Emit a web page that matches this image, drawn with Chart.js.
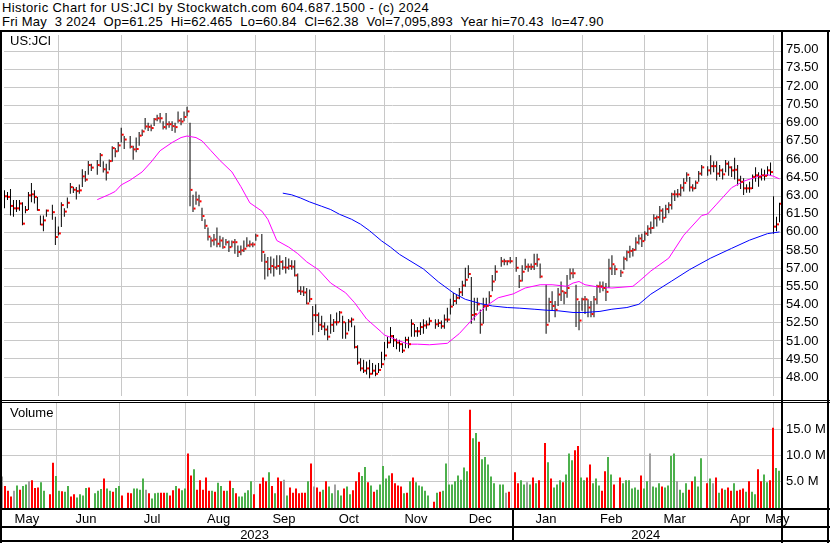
<!DOCTYPE html>
<html>
<head>
<meta charset="utf-8">
<title>Historic Chart for US:JCI</title>
<script src="https://cdn.jsdelivr.net/npm/chart.js@4.4.1/dist/chart.umd.min.js"></script>
<style>
  body { margin: 0; background: #fff; }
  #page { position: relative; width: 830px; height: 543px; overflow: hidden;
          font-family: "Liberation Sans", Arial, sans-serif; font-size: 13px; color: #000; }
  .hdr { position: absolute; left: 2px; white-space: pre; line-height: 14px; }
  .lbl { position: absolute; left: 10px; line-height: 14px; }
  .ln { position: absolute; background: #000; z-index: 2; }
  canvas { position: absolute; left: 0; }
</style>
</head>
<body>
<div id="page">
  <div class="hdr" style="top:1px;letter-spacing:0.4px">Historic Chart for US:JCI by Stockwatch.com 604.687.1500 - (c) 2024</div>
  <div class="hdr" style="top:15px;letter-spacing:0.24px">Fri May  3 2024  Op=61.25  Hi=62.465  Lo=60.84  Cl=62.38  Vol=7,095,893  Year hi=70.43  lo=47.90</div>
  <canvas id="price" width="830" height="369" style="top:31px"></canvas>
  <canvas id="volume" width="830" height="141" style="top:402px"></canvas>
  <div class="lbl" style="top:34px">US:JCI</div>
  <div class="lbl" style="top:406px">Volume</div>
  <!-- frame -->
  <div class="ln" style="left:0;top:30px;width:830px;height:2px"></div>
  <div class="ln" style="left:0;top:30px;width:2px;height:513px"></div>
  <div class="ln" style="left:781px;top:30px;width:2px;height:513px"></div>
  <div class="ln" style="left:827px;top:30px;width:2px;height:513px"></div>
  <div class="ln" style="left:0;top:400px;width:830px;height:1px"></div>
  <div class="ln" style="left:0;top:402px;width:830px;height:1px"></div>
  <div class="ln" style="left:0;top:508px;width:830px;height:2px"></div>
  <div class="ln" style="left:0;top:526px;width:830px;height:2px"></div>
  <div class="ln" style="left:0;top:540px;width:830px;height:2px"></div>
  <div class="ln" style="left:512px;top:508px;width:2px;height:34px"></div>
</div>
<script>
// one entry per weekday, 8 May 2023 .. 3 May 2024 (null = market holiday)
const closes = [
  63.0, 62.95, 62.2, 62.0, 62.0, 62.4, 60.73, 61.86, 63.08, 63.16,
  62.95, 61.86, 60.65, 61.0, 61.81, null, 61.68, 59.62, 59.92, 62.27,
  61.73, 62.46, 63.76, 63.54, 63.43, 63.49, 64.65, 64.38, 65.59, 65.38,
  null, 65.59, 66.41, 65.24, 64.97, 65.92, 67.0, 66.73, 67.22, 68.11,
  67.71, null, 67.11, 66.89, 66.92, 68.03, 68.38, 68.79, 68.76, 68.66,
  69.39, 69.47, 69.47, 68.74, 68.98, 68.98, 68.82, 68.74, 69.28, 69.2,
  69.58, 70.04, 63.53, 61.98, 62.72, 62.58, 61.36, 60.55, 59.65, 59.33,
  59.41, 59.06, 59.33, 58.78, 59.19, 58.78, 59.19, 59.19, 58.38, 58.51,
  58.65, 58.92, 59.0, 59.0, 59.73, null, 58.38, 57.56, 56.97, 57.21,
  57.1, 57.21, 57.56, 57.1, 57.08, 57.21, 57.16, 56.44, 55.15, 55.1,
  55.02, 54.11, 54.48, 53.14, 53.14, 52.34, 52.2, 51.94, 51.35, 52.34,
  52.55, 52.55, 53.36, 52.55, 51.61, 52.61, 52.77, 50.49, 49.2, 48.72,
  48.53, 48.72, 48.27, 48.53, 48.27, 48.59, 49.07, 49.79, 50.86, 51.4,
  51.05, 50.86, 50.73, 50.2, 51.08, 50.73, 52.42, 51.8, 51.8, 52.15,
  52.28, 52.36, 52.66, null, 52.38, 52.49, 52.22, 52.77, 52.77, 53.85,
  54.31, 54.58, 55.04, 55.6, 56.07, 56.55, 53.15, 53.23, 54.04, 52.36,
  53.9, 53.9, 54.72, 55.93, 56.74, null, 57.61, 57.61, 57.61, 57.61,
  null, 57.07, 55.99, 56.74, 57.15, 57.15, 57.15, 57.39, 57.77, 56.34,
  null, 52.34, 54.23, 53.9, 53.58, 54.85, 55.12, 54.99, 55.39, 56.61,
  56.61, 54.45, 52.69, 54.45, 54.45, 53.77, 53.23, 54.45, 55.53, 55.53,
  55.39, 55.07, 57.01, 57.36, 56.95, null, 56.68, 57.81, 58.36, 58.47,
  58.55, 59.17, 59.5, 59.28, 59.9, 60.31, 60.37, 61.18, 61.26, 61.81,
  61.21, 61.94, 62.27, 63.16, 63.16, 63.16, 63.71, 64.11, 64.79, 63.74,
  63.66, 64.12, 64.88, 65.4, null, 65.15, 65.5, 65.5, 64.88, 65.15,
  64.82, 65.7, 65.4, 65.15, 65.2, 64.34, 64.2, 63.66, 63.66, 63.66,
  64.61, 64.74, 64.61, 64.74, 64.69, 65.15, 65.01, 60.48, 60.67, 62.38
];
const highs = [
  63.5, 63.35, 63.6, 62.7, 62.7, 62.7, 62.5, 62.2, 63.35, 64.1,
  63.5, 62.95, 61.4, 61.4, 61.9, null, 62.3, 61.3, 60.5, 62.5,
  62.0, 62.9, 64.1, 63.8, 63.76, 63.97, 65.24, 65.1, 65.92, 65.7,
  null, 66.0, 66.6, 65.9, 65.7, 66.05, 67.14, 67.0, 67.5, 68.68,
  68.0, null, 68.0, 67.19, 67.87, 68.33, 68.55, 69.5, 69.09, 68.95,
  69.5, 69.77, 69.9, 69.23, 69.9, 69.23, 69.23, 69.09, 70.04, 69.5,
  70.04, 70.43, 69.09, 63.12, 63.4, 63.12, 62.04, 61.09, 60.41, 59.6,
  59.87, 60.41, 59.73, 59.6, 59.46, 59.33, 59.33, 59.46, 58.92, 58.92,
  59.33, 59.6, 59.33, 59.19, 59.9, null, 59.87, 58.24, 57.97, 58.0,
  57.83, 58.1, 58.1, 57.7, 57.97, 57.83, 57.7, 57.7, 56.6, 55.53,
  55.53, 55.4, 55.26, 53.9, 54.04, 53.36, 53.09, 52.55, 52.28, 53.22,
  52.82, 53.36, 53.49, 53.09, 52.55, 52.82, 52.95, 52.28, 50.65, 49.57,
  49.43, 49.3, 49.43, 49.16, 49.02, 49.16, 50.11, 50.9, 51.35, 52.15,
  51.5, 51.2, 51.1, 50.8, 51.35, 51.35, 52.8, 52.4, 52.15, 52.55,
  52.8, 52.7, 52.95, null, 52.8, 52.8, 52.7, 53.2, 53.75, 54.5,
  55.0, 54.85, 55.4, 56.0, 57.07, 57.28, 56.3, 54.58, 54.58, 53.6,
  54.58, 54.58, 55.12, 56.47, 57.28, null, 57.96, 57.82, 57.69, 57.96,
  null, 57.96, 56.47, 57.28, 57.82, 57.42, 57.42, 58.23, 58.23, 57.42,
  null, 55.66, 54.58, 55.12, 54.31, 55.39, 55.93, 55.12, 56.47, 57.01,
  57.01, 55.66, 54.31, 54.58, 54.72, 54.45, 54.31, 54.72, 55.66, 55.93,
  55.93, 55.8, 57.82, 58.1, 57.28, null, 56.9, 58.0, 58.5, 58.9,
  58.7, 59.6, 59.8, 59.9, 60.1, 60.6, 60.9, 61.5, 61.4, 62.2,
  62.0, 62.3, 62.5, 63.3, 63.5, 63.6, 64.0, 64.5, 65.0, 64.6,
  64.0, 64.3, 65.1, 65.6, null, 65.5, 66.4, 65.9, 65.9, 65.6,
  65.3, 66.0, 65.9, 65.5, 66.2, 65.6, 64.7, 64.5, 64.0, 64.2,
  64.8, 65.4, 65.0, 65.3, 65.2, 65.5, 65.8, 63.0, 61.3, 62.465
];
const lows = [
  62.0, 62.7, 61.4, 61.3, 61.7, 61.8, 60.6, 61.6, 61.86, 62.5,
  62.4, 61.8, 60.6, 60.1, 61.3, null, 61.05, 58.95, 59.75, 60.45,
  61.3, 62.0, 63.2, 63.27, 62.73, 63.2, 63.76, 64.2, 64.78, 65.1,
  null, 64.78, 65.43, 64.97, 64.3, 65.16, 65.86, 66.24, 66.7, 67.46,
  66.92, null, 66.97, 66.03, 66.65, 67.19, 68.0, 68.55, 68.41, 68.4,
  68.82, 69.23, 69.09, 68.55, 68.55, 68.68, 68.41, 68.28, 69.09, 68.9,
  69.23, 69.63, 62.17, 61.7, 62.3, 62.17, 60.95, 60.28, 59.33, 58.78,
  58.92, 58.78, 58.78, 58.65, 58.92, 58.38, 58.78, 58.24, 57.97, 58.1,
  58.38, 58.78, 58.78, 58.78, 59.3, null, 57.56, 56.1, 56.34, 56.6,
  56.34, 56.9, 56.48, 56.9, 56.6, 56.9, 56.9, 56.34, 55.0, 54.8,
  54.72, 54.04, 54.2, 51.46, 52.55, 51.73, 51.9, 51.46, 51.05, 51.6,
  51.73, 52.28, 52.55, 51.19, 51.19, 51.8, 52.14, 50.38, 49.02, 48.48,
  48.34, 48.21, 47.9, 48.21, 48.07, 48.34, 48.75, 49.4, 50.4, 50.8,
  50.5, 50.3, 50.1, 50.0, 50.4, 50.4, 51.35, 51.35, 51.35, 51.5,
  51.6, 52.0, 52.3, null, 52.0, 52.15, 52.0, 52.0, 52.55, 53.2,
  53.9, 54.04, 54.45, 54.72, 55.5, 56.2, 52.42, 52.69, 53.5, 51.6,
  52.42, 53.5, 54.04, 55.12, 56.0, null, 57.15, 57.28, 57.28, 57.42,
  null, 56.74, 55.39, 55.93, 56.88, 56.74, 56.88, 56.88, 57.15, 56.2,
  null, 51.6, 52.55, 53.5, 52.96, 53.9, 54.31, 54.04, 54.58, 56.07,
  56.2, 52.15, 51.88, 53.5, 53.23, 52.96, 52.96, 52.96, 54.04, 54.99,
  55.12, 54.31, 55.39, 56.47, 56.47, null, 56.3, 56.9, 57.6, 57.9,
  58.0, 58.5, 59.0, 58.8, 59.3, 59.7, 59.9, 60.3, 60.5, 61.0,
  60.8, 61.2, 61.6, 61.9, 62.6, 62.9, 63.0, 63.4, 64.2, 63.4,
  63.4, 63.6, 64.2, 64.7, null, 64.7, 64.8, 65.0, 64.3, 64.6,
  64.4, 65.0, 64.7, 64.6, 64.4, 63.9, 63.6, 63.1, 63.3, 63.3,
  63.6, 64.2, 63.8, 64.3, 64.3, 64.7, 64.7, 59.9, 60.1, 60.84
];
// volume in millions of shares
const volumes = [
  6.0, 4.2, 3.3, 2.2, 3.3, 4.3, 3.5, 4.2, 4.5, 5.1,
  5.3, 3.8, 3.9, 4.9, 3.3, null, 2.6, 8.6, 6.1, 3.3,
  3.2, 3.1, 4.2, 2.2, 2.6, 2.0, 2.6, 2.4, 3.8, 3.9,
  null, 2.8, 3.3, 3.6, 5.6, 3.7, 3.3, 3.1, 3.8, 4.2,
  2.4, null, 2.9, 2.8, 3.7, 3.7, 3.5, 5.6, 3.5, 2.8,
  1.8, 2.8, 2.9, 2.9, 2.9, 2.9, 2.4, 3.4, 4.2, 3.7,
  3.4, 3.7, 10.4, 6.2, 7.4, 3.5, 5.3, 3.5, 5.8, 3.3,
  3.3, 3.1, 4.8, 4.2, 3.3, 3.3, 5.2, 3.8, 2.8, 2.2,
  2.2, 2.9, 3.4, 5.1, 2.6, null, 4.6, 5.8, 5.1, 6.8,
  4.2, 2.8, 5.8, 5.1, 5.4, 2.4, 3.9, 2.9, 3.7, 2.8,
  2.9, 2.9, 5.1, 8.5, 4.1, 3.9, 3.1, 3.5, 5.1, 4.1,
  2.8, 4.5, 3.4, 2.4, 3.7, 4.1, 2.6, 3.4, 5.1, 6.8,
  6.1, 7.8, 4.9, 4.3, 3.1, 3.5, 4.5, 8.0, 5.6, 6.2,
  6.6, 4.7, 4.3, 4.1, 2.8, 2.9, 5.1, 5.8, 4.9, 4.3,
  4.1, 3.3, 2.4, null, 1.2, 2.9, 3.1, 3.3, 8.5, 4.5,
  4.5, 5.1, 6.2, 5.4, 7.7, 7.0, 18.7, 13.3, 14.3, 12.6,
  9.3, 9.7, 8.3, 6.0, 4.7, null, 4.5, 4.5, 2.9, 3.1,
  null, 6.8, 4.7, 5.3, 4.5, 4.9, 4.5, 5.8, 4.7, 5.3,
  null, 12.4, 8.7, 5.6, 3.9, 4.5, 5.3, 4.9, 6.4, 10.4,
  9.1, 11.0, 11.8, 5.8, 5.3, 5.8, 8.3, 4.7, 5.6, 4.3,
  3.3, 7.0, 9.7, 6.4, 4.5, null, 5.8, 4.7, 5.3, 5.3,
  3.7, 3.9, 3.5, 6.2, 3.7, 5.1, 10.4, 4.1, 3.9, 4.7,
  4.1, 3.9, 4.3, 9.9, 10.4, 5.1, 3.5, 2.9, 4.7, 3.5,
  5.1, 6.0, 4.1, 9.5, null, 4.7, 5.6, 4.7, 5.8, 2.9,
  3.7, 3.5, 3.9, 3.3, 4.7, 3.3, 3.5, 3.7, 3.1, 5.1,
  3.1, 2.6, 7.4, 5.1, 6.4, 4.9, 5.3, 15.3, 7.6, 7.1
];
// r = down day, g = up day, n = unchanged, - = holiday
const volumeDirs =
  "nrrrngrggn" + "rrrgg-rrgg" + "rggrrggggr" + "-gggrggrgg" + "r-rrggggnr" +
  "gggrrgrrgr" + "ggrrgrrrrr" + "grggrgrgrg" + "ggggr-rrrg" + "rgrrngrrrr" +
  "rrgrnrrgrg" + "gnggrggrrr" + "ggrgrggggg" + "rrrrgrgrgg" + "ggg-rgrggg" +
  "ggggggrggr" + "ggggg-ggnr" + "-rrggngrgr" + "-rgrgggrgg" + "grrggrrggg" +
  "rrggr-rggg" + "gggrggnggg" + "rggggngggr" + "rggg-rgnrg" + "rgrrgrrrgr" +
  "ggrrggrrgg";

const maShortDays = [31, 35, 37, 39, 42, 46, 49, 52, 56, 59, 61, 64, 66, 69, 72, 76, 79, 82, 86, 88,
  91, 95, 98, 101, 105, 109, 114, 117, 121, 126, 127, 129, 131, 135, 138, 142, 148, 152, 157, 161,
  165, 170, 174, 179, 183, 188, 190, 192, 194, 199, 203, 210, 212, 216, 222, 227, 233, 235, 238, 243,
  247, 252, 255, 257, 259];
const maShortVals = [62.72, 63.15, 63.4, 63.94, 64.34, 65.02, 65.84, 66.78, 67.46, 67.87, 68.0, 67.87, 67.6, 66.78, 65.97, 65.02, 63.8, 62.45, 61.77, 61.09,
  59.33, 58.78, 58.24, 57.56, 56.89, 55.8, 54.99, 54.17, 52.82, 51.73, 51.48, 51.3, 51.08, 50.73, 50.73, 50.68, 50.8, 51.61, 52.96, 53.9,
  54.58, 54.9, 55.39, 55.66, 55.66, 55.53, 55.8, 55.93, 55.66, 55.45, 55.39, 55.53, 55.93, 56.8, 57.87, 59.77, 61.4, 61.53, 62.35, 63.71,
  64.25, 64.66, 64.79, 64.66, 64.44];
const maLongDays = [93, 96, 99, 102, 106, 109, 112, 116, 119, 122, 126, 129, 132, 140, 145, 150, 154, 159, 163, 168,
  172, 177, 181, 185, 190, 194, 199, 203, 208, 212, 216, 223, 229, 236, 243, 249, 255, 259];
const maLongVals = [63.26, 63.12, 62.85, 62.53, 62.17, 61.9, 61.5, 61.09, 60.68, 60.14, 59.3, 58.78, 58.18, 56.97, 55.9, 54.99, 54.45, 54.1, 53.9, 53.77,
  53.72, 53.63, 53.55, 53.5, 53.36, 53.36, 53.45, 53.63, 53.77, 54.04, 54.88, 55.97, 56.92, 57.87, 58.68, 59.36, 59.9, 60.04];

// first weekday of each month (vertical grid), label anchors, price ticks
const monthStarts = [18, 39, 61, 84, 104, 127, 149, 170, 193, 214, 235, 257];
const monthNames = ["May", "Jun", "Jul", "Aug", "Sep", "Oct", "Nov", "Dec", "Jan", "Feb", "Mar", "Apr", "May"];
const monthLabelAt = [8.3, 28, 50, 72.2, 94, 115.6, 138, 159.4, 181.3, 203.1, 224.2, 246, 258.4];
const yearNames = ["2023", "2024"];
const yearLabelAt = [84.2, 214.6];
const priceTicks = [48, 49.5, 51, 52.5, 54, 55.5, 57, 58.5, 60, 61.5, 63, 64.5, 66, 67.5, 69, 70.5, 72, 73.5, 75];
const volumeTicks = [5, 10, 15];

Chart.defaults.font.family = '"Liberation Sans", Arial, sans-serif';
Chart.defaults.font.size = 13;
Chart.defaults.color = "#000";
Chart.defaults.animation = false;

const GRID = "#c8c8c8";
const X_MIN = -1 / 6, X_MAX = 259.5;

const rangeBars = [], closeMarks = [];
closes.forEach((c, i) => {
  if (c === null) return;
  rangeBars.push({ x: i, y: [lows[i], highs[i]] });
  closeMarks.push({ x: i + 0.5, y: c });
});
const volBars = [], volCols = [];
volumes.forEach((v, i) => {
  if (v === null) return;
  volBars.push({ x: i, y: v });
  const d = volumeDirs[i];
  volCols.push(d === "r" ? "#ff0000" : d === "g" ? "#4cb04c" : "#a0a0a0");
});

const noPlugins = { legend: { display: false }, tooltip: { enabled: false } };

// keep the plot area exactly where the frame expects it
function fixSize(w, h) {
  return s => {
    if (w !== null) s.width = w;
    if (h !== null) s.height = h;
    s.paddingTop = 0; s.paddingBottom = 0; s.paddingLeft = 0; s.paddingRight = 0;
  };
}

function monthGridAxis(min, max) {
  return {
    type: "linear", min: min, max: max, offset: false, weight: 0,
    grid: { color: GRID, drawTicks: false, offset: false },
    border: { display: false },
    ticks: { display: false },
    afterBuildTicks: s => { s.ticks = monthStarts.map(v => ({ value: v })); },
    afterFit: fixSize(null, 0)
  };
}

function labelAxis(min, max, at, names, weight, pad, h) {
  return {
    type: "linear", axis: "x", position: "bottom", min: min, max: max, weight: weight, offset: false,
    grid: { display: false, drawTicks: false, offset: false }, border: { display: false },
    ticks: { autoSkip: false, maxRotation: 0, padding: pad, callback: (v, k) => names[k] },
    afterBuildTicks: s => { s.ticks = at.map(v => ({ value: v })); },
    afterFit: fixSize(null, h)
  };
}

new Chart(document.getElementById("price"), {
  type: "bar",
  data: {
    datasets: [
      { type: "line", data: closeMarks, showLine: false, pointStyle: "rect", pointRadius: 1.42,
        pointBackgroundColor: "#ff0000", pointBorderWidth: 0, order: 0 },
      { type: "line", data: maShortDays.map((d, k) => ({ x: d, y: maShortVals[k] })),
        borderColor: "#ff00ff", borderWidth: 1, pointRadius: 0, order: 1 },
      { type: "line", data: maLongDays.map((d, k) => ({ x: d, y: maLongVals[k] })),
        borderColor: "#0000ff", borderWidth: 1, pointRadius: 0, order: 1 },
      { type: "bar", data: rangeBars, backgroundColor: "#000", barThickness: 1,
        borderWidth: 0, inflateAmount: 0, order: 2 }
    ]
  },
  options: {
    responsive: false, devicePixelRatio: 1,
    layout: { padding: { left: 2, top: 1, right: 0, bottom: 0 } },
    plugins: noPlugins,
    scales: {
      x: monthGridAxis(X_MIN, X_MAX),
      // grid lines of the price panel
      y: {
        position: "right", min: 46.43, max: 76.38, weight: 0,
        grid: { color: GRID, drawTicks: false },
        border: { display: false },
        ticks: { display: false },
        afterBuildTicks: s => { s.ticks = priceTicks.map(v => ({ value: v })); },
        afterFit: fixSize(0, null)
      },
      // the printed price labels sit on a slightly wider spacing than the grid
      priceLabels: {
        type: "linear", axis: "y", position: "right", min: 46.463, max: 76.213, weight: 1,
        grid: { display: false, drawTicks: false },
        border: { display: false },
        ticks: { padding: 5, autoSkip: false, callback: v => v.toFixed(2) },
        afterBuildTicks: s => { s.ticks = priceTicks.map(v => ({ value: v })); },
        afterFit: fixSize(49, null)
      }
    }
  }
});

const VX_MIN = X_MIN + 1 / 6, VX_MAX = X_MAX + 1 / 6;
new Chart(document.getElementById("volume"), {
  type: "bar",
  data: {
    datasets: [{ data: volBars, backgroundColor: volCols, barThickness: 2, borderWidth: 0, inflateAmount: 0 }]
  },
  options: {
    responsive: false, devicePixelRatio: 1,
    layout: { padding: { left: 2, top: 1, right: 0, bottom: 0 } },
    plugins: noPlugins,
    scales: {
      x: monthGridAxis(VX_MIN, VX_MAX),
      months: labelAxis(VX_MIN, VX_MAX, monthLabelAt, monthNames, 1, 4, 19),
      years: labelAxis(VX_MIN, VX_MAX, yearLabelAt, yearNames, 2, 1, 16),
      y: {
        position: "right", min: 0, max: 20,
        grid: { color: GRID, drawTicks: false },
        border: { display: false },
        ticks: { padding: 5, autoSkip: false, callback: v => v.toFixed(1) + " M" },
        afterBuildTicks: s => { s.ticks = volumeTicks.map(v => ({ value: v })); },
        afterFit: fixSize(49, null)
      }
    }
  }
});
</script>
</body>
</html>
